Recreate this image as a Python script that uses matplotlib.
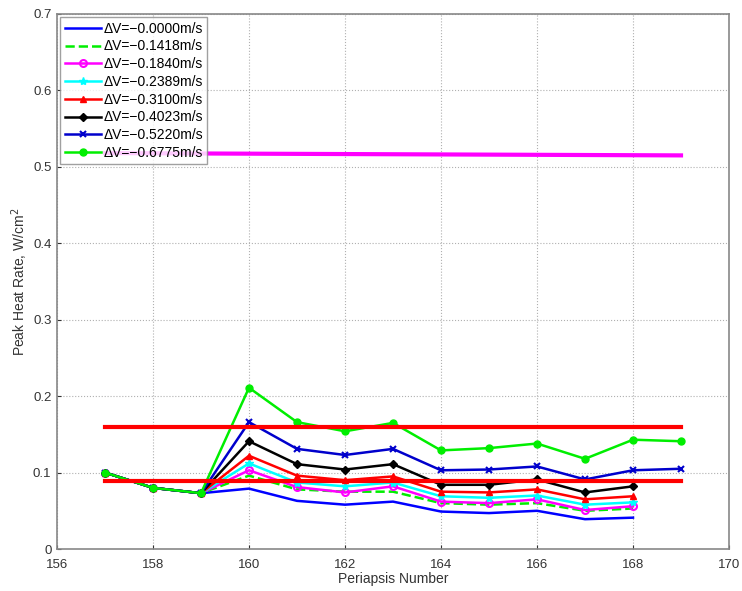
import matplotlib
matplotlib.use("Agg")
import matplotlib.pyplot as plt
import numpy as np

plt.rcParams['font.family'] = ['Liberation Sans', 'DejaVu Sans']

periapsis = [157, 158, 159, 160, 161, 162, 163, 164, 165, 166, 167, 168]
periapsis_ext = periapsis + [169]

labels = ["\u0394V=\u22120.0000m/s", "\u0394V=\u22120.1418m/s", "\u0394V=\u22120.1840m/s",
          "\u0394V=\u22120.2389m/s", "\u0394V=\u22120.3100m/s", "\u0394V=\u22120.4023m/s",
          "\u0394V=\u22120.5220m/s", "\u0394V=\u22120.6775m/s"]

dv0000 = [0.100, 0.080, 0.073, 0.079, 0.063, 0.058, 0.062, 0.049, 0.047, 0.050, 0.039, 0.041]
dv1418 = [0.100, 0.080, 0.073, 0.096, 0.078, 0.075, 0.075, 0.060, 0.058, 0.060, 0.050, 0.053]
dv1840 = [0.100, 0.080, 0.073, 0.103, 0.081, 0.074, 0.082, 0.062, 0.060, 0.065, 0.051, 0.056]
dv2389 = [0.100, 0.080, 0.073, 0.112, 0.087, 0.082, 0.087, 0.069, 0.067, 0.070, 0.058, 0.061]
dv3100 = [0.100, 0.080, 0.073, 0.122, 0.096, 0.090, 0.095, 0.075, 0.074, 0.078, 0.065, 0.069]
dv4023 = [0.100, 0.080, 0.073, 0.141, 0.111, 0.104, 0.111, 0.084, 0.084, 0.091, 0.074, 0.082]
dv5220 = [0.100, 0.080, 0.073, 0.166, 0.131, 0.123, 0.131, 0.103, 0.104, 0.108, 0.091, 0.103, 0.105]
dv6775 = [0.100, 0.080, 0.073, 0.211, 0.166, 0.154, 0.165, 0.129, 0.132, 0.138, 0.118, 0.143, 0.141]

limit_x = [157, 169]
upper_limit = [0.160, 0.160]
lower_limit = [0.089, 0.089]
magenta_limit = [0.518, 0.515]

fig = plt.figure(figsize=(7.42, 5.91), dpi=100)
ax = fig.add_axes([57/742, 1-549/591, 672/742, 535/591])

ax.plot(limit_x, upper_limit, color="#ff0000", lw=3, zorder=3)
ax.plot(limit_x, lower_limit, color="#ff0000", lw=3, zorder=3)
ax.plot(limit_x, magenta_limit, color="#ff00ff", lw=3, zorder=3)

lw = 1.8
ax.plot(periapsis, dv0000, color="#0000ff", lw=lw, label=labels[0])
ax.plot(periapsis, dv1418, color="#00ee00", lw=lw, ls="--", label=labels[1])
ax.plot(periapsis, dv1840, color="#ff00ff", lw=lw, marker="o", mfc="none", mew=1.5, ms=5, label=labels[2])
ax.plot(periapsis, dv2389, color="#00ffff", lw=lw, marker="*", ms=6, label=labels[3])
ax.plot(periapsis, dv3100, color="#ff0000", lw=lw, marker="^", ms=5, label=labels[4])
ax.plot(periapsis, dv4023, color="#000000", lw=lw, marker="D", ms=4, label=labels[5])
ax.plot(periapsis_ext, dv5220, color="#0000cc", lw=lw, marker="x", mew=1.5, ms=5, label=labels[6])
ax.plot(periapsis_ext, dv6775, color="#00ee00", lw=lw, marker="o", ms=5, label=labels[7])

ax.set_xlim(156, 170)
ax.set_ylim(0, 0.7)
ax.set_xticks(np.arange(156, 171, 2))
ax.set_yticks(np.arange(0, 0.71, 0.1))
ax.set_yticklabels(["0", "0.1", "0.2", "0.3", "0.4", "0.5", "0.6", "0.7"])
ax.grid(True, ls=":", color="#b0b0b0", lw=0.8)
ax.tick_params(labelsize=9.5, colors="#333333", direction="in", length=3)
ax.tick_params(axis="x", pad=7)
ax.tick_params(axis="y", pad=4)
for s in ax.spines.values():
    s.set_color("#888888")
    s.set_linewidth(1.2)

ax.set_xlabel("Periapsis Number", fontsize=10, color="#333333", labelpad=1)
ax.set_ylabel("Peak Heat Rate, W/cm$^2$", fontsize=10, color="#333333", labelpad=2)

leg = ax.legend(loc="upper left", fontsize=10, frameon=True, fancybox=False,
                edgecolor="#888888", borderaxespad=0.25, labelspacing=0.27,
                handlelength=2.6, handletextpad=0.2, borderpad=0.3)
leg.get_frame().set_linewidth(1.0)

fig.savefig("out.png", dpi=100)
